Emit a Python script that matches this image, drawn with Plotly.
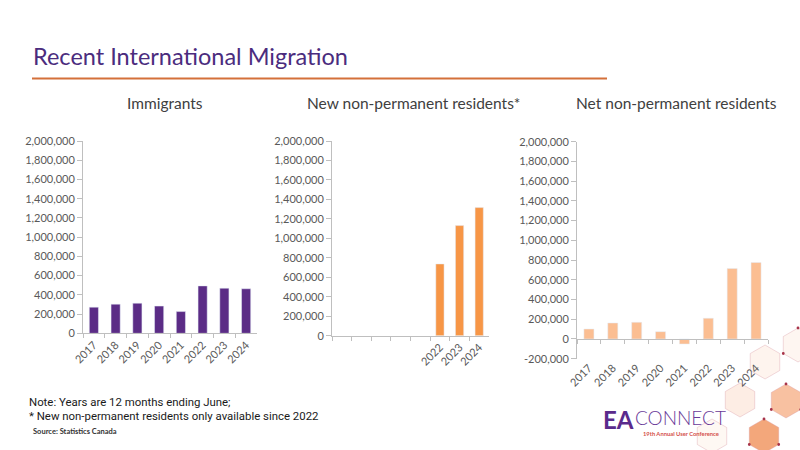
import plotly.graph_objects as go
import math

years = ["2017", "2018", "2019", "2020", "2021", "2022", "2023", "2024"]
immigrants = [272000, 303000, 313000, 283000, 226000, 493000, 469000, 463000]
new_npr = [None, None, None, None, None, 737000, 1131000, 1316000]
net_npr = [101000, 162000, 169000, 74000, -51000, 210000, 714000, 775000]

yticks_pos = [0, 200000, 400000, 600000, 800000, 1000000, 1200000, 1400000, 1600000, 1800000, 2000000]
yticks_pos_txt = ["0", "200,000", "400,000", "600,000", "800,000", "1,000,000", "1,200,000",
                  "1,400,000", "1,600,000", "1,800,000", "2,000,000"]
yticks_net = [-200000] + yticks_pos
yticks_net_txt = ["-200,000"] + yticks_pos_txt

new_npr_labels = ["", "", "", "", "", "2022", "2023", "2024"]

W, H = 800, 450
def px(x):
    return x / W
def py(y):
    return 1 - y / H

PURPLE = "#5B2C86"
ORANGE = "#F79646"
PEACH = "#FBBE92"
AXIS = "#BFBFBF"
TICKC = "#595959"
FONT = "Lato"

fig = go.Figure()
fig.add_trace(go.Bar(x=years, y=immigrants, marker_color=PURPLE, xaxis="x", yaxis="y",
                     showlegend=False, hoverinfo="x+y"))
fig.add_trace(go.Bar(x=years, y=new_npr, marker_color=ORANGE, xaxis="x2", yaxis="y2",
                     showlegend=False, hoverinfo="x+y"))
fig.add_trace(go.Bar(x=years, y=net_npr, marker_color=PEACH, xaxis="x3", yaxis="y3",
                     showlegend=False, hoverinfo="x+y"))
fig.add_trace(go.Scatter(x=years, y=[0] * len(years), mode="markers", marker=dict(opacity=0),
                         xaxis="x4", yaxis="y3", showlegend=False, hoverinfo="skip"))

tickfont = dict(family=FONT, size=11, color=TICKC)
common_x = dict(type="category", showline=True, linecolor=AXIS, linewidth=1, ticks="outside",
                tickson="boundaries", ticklen=4, tickcolor=AXIS, tickangle=-45, automargin=False,
                tickfont=tickfont, showgrid=False, zeroline=False, range=[-0.5, 7.5], fixedrange=True)
common_y = dict(showline=True, linecolor=AXIS, linewidth=1, ticks="outside", ticklen=5, automargin=False,
                tickcolor=AXIS, tickfont=tickfont, showgrid=False, zeroline=False, tickmode="array",
                fixedrange=True)

d1 = [px(83), px(257)]
d2 = [px(332), px(489)]
d3 = [px(577), px(768)]

fig.update_layout(
    width=W, height=H, margin=dict(l=0, r=0, t=0, b=0, pad=0, autoexpand=False),
    paper_bgcolor="white", plot_bgcolor="rgba(0,0,0,0)",
    bargap=0.58,
    xaxis=dict(common_x, domain=d1, anchor="y"),
    yaxis=dict(common_y, domain=[py(333.3), py(141)], range=[0, 2000000], anchor="x",
               tickvals=yticks_pos, ticktext=yticks_pos_txt),
    xaxis2=dict(common_x, domain=d2, anchor="y2", tickmode="array", tickvals=years,
                ticktext=new_npr_labels),
    yaxis2=dict(common_y, domain=[py(335.7), py(141)], range=[0, 2000000], anchor="x2",
                tickvals=yticks_pos, ticktext=yticks_pos_txt),
    xaxis3=dict(common_x, domain=d3, anchor="y3", showline=False, ticks=""),
    yaxis3=dict(common_y, domain=[py(358.7), py(141.7)], range=[-200000, 2000000], anchor="x3",
                tickvals=yticks_net, ticktext=yticks_net_txt),
    xaxis4=dict(common_x, overlaying="x3", anchor="free", position=py(338.7),
                showticklabels=False),
)

annotations = [
    dict(text="Recent International Migration", x=px(31), y=py(56), xanchor="left", yanchor="middle",
         font=dict(family=FONT, size=23.5, color="#4B2C7E")),
    dict(text="Immigrants", x=px(165), y=py(103), xanchor="center", yanchor="middle",
         font=dict(family=FONT, size=15.5, color="#404040")),
    dict(text="New non-permanent residents*", x=px(414), y=py(103), xanchor="center", yanchor="middle",
         font=dict(family=FONT, size=15.5, color="#404040")),
    dict(text="Net non-permanent residents", x=px(676), y=py(103), xanchor="center", yanchor="middle",
         font=dict(family=FONT, size=15.5, color="#404040")),
    dict(text="Note: Years are 12 months ending June;", x=px(27), y=py(402), xanchor="left",
         yanchor="middle", font=dict(family="Roboto", size=11.4, color="#1a1a1a")),
    dict(text="* New non-permanent residents only available since 2022", x=px(27), y=py(416),
         xanchor="left", yanchor="middle", font=dict(family="Roboto", size=11.4, color="#1a1a1a")),
    dict(text="<b>Source: Statistics Canada</b>", x=px(31), y=py(431), xanchor="left", yanchor="middle",
         font=dict(family=FONT, size=7.5, color="#333333")),
    dict(text="<b>EA</b>", x=px(601), y=py(419), xanchor="left", yanchor="middle",
         font=dict(family="Lato", size=24, color="#5A2A8C")),
    dict(text="CONNECT", x=px(633), y=py(417), xanchor="left", yanchor="middle",
         font=dict(family="Lato Light, Lato", size=19, color="#6A3A98")),
    dict(text="<b>19th Annual User Conference</b>", x=px(641), y=py(433), xanchor="left",
         yanchor="middle", font=dict(family=FONT, size=5.8, color="#D4504A")),
]
for a in annotations:
    a.update(xref="paper", yref="paper", showarrow=False)
fig.update_layout(annotations=annotations)

shapes = [dict(type="line", xref="paper", yref="paper", x0=px(32), x1=px(607), y0=py(78.5), y1=py(78.5),
               line=dict(color="#D4703A", width=2))]

def hexpath(cx, cy, r):
    pts = []
    for k in range(6):
        ang = math.radians(90 + 60 * k)
        pts.append((px(cx + r * math.cos(ang)), py(cy - r * math.sin(ang))))
    return "M " + " L ".join(f"{x:.4f},{y:.4f}" for x, y in pts) + " Z", pts

hexes = [
    (740, 400, "rgba(250,215,195,0.45)", 0),
    (786, 401, "rgba(244,160,110,0.65)", 1),
    (764, 436, "rgba(240,145,90,0.8)", 1),
    (765, 362, "rgba(252,228,212,0.40)", 0),
    (798, 345, "rgba(252,230,215,0.35)", 1),
    (712, 436, "rgba(252,235,222,0.35)", 0),
]
dots = []
for cx, cy, col, d in hexes:
    path, pts = hexpath(cx, cy, 17)
    shapes.append(dict(type="path", xref="paper", yref="paper", path=path, fillcolor=col,
                       line=dict(color="rgba(215,150,160,0.5)", width=0.7), layer="below"))
    if d:
        dots.extend(pts[::2])
for x, y in dots:
    shapes.append(dict(type="circle", xref="paper", yref="paper", x0=x - px(1.4), x1=x + px(1.4),
                       y0=y - 1.4 / H, y1=y + 1.4 / H, fillcolor="#A8344A", line=dict(width=0)))
fig.update_layout(shapes=shapes)

fig.write_html("out.html")
